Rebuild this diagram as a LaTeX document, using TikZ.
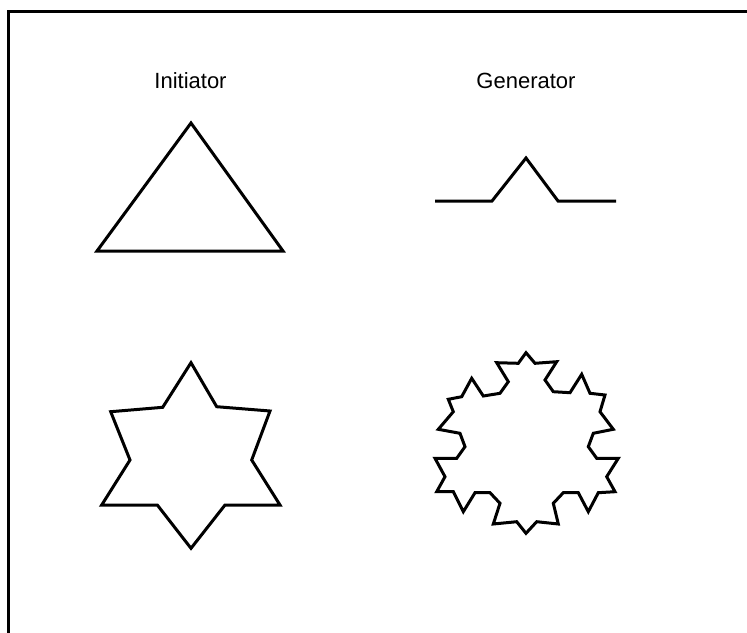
\documentclass[tikz,border=0pt]{standalone}
\usepackage{fontspec}
\setmainfont{Liberation Sans}
\begin{document}
\begin{tikzpicture}[x=1pt,y=-1pt,
  outline/.style={line width=3pt,line join=miter,black},
  frameline/.style={line width=3pt,black},
  captiontext/.style={anchor=base,inner sep=0pt,font=\fontsize{22}{26}\selectfont}]
\useasboundingbox (0,0) rectangle (747,632);
\fill[white] (0,0) rectangle (747,632);
% frame (only top and left edges visible)
\draw[frameline] (8.5,640) -- (8.5,11.5) -- (760,11.5);
% labels
\node[captiontext] (init) at (190.5,88) {Initiator};
\node[captiontext] (gen) at (526,88) {Generator};
% initiator triangle
\draw[outline] (191,123) -- (283,251) -- (97,251) -- cycle;
% generator
\draw[outline] (435,201) -- (492,201) -- (526,158) -- (558,201) -- (616,201);
% first iteration (star)
\draw[outline] (191,362.7) -- (216.7,406.7) -- (270,411) -- (251.7,460) -- (280,505)
  -- (225,505) -- (191,548.3) -- (157.3,505) -- (101.7,505) -- (130,460)
  -- (110.7,411.7) -- (162.7,407.3) -- cycle;
% second iteration (snowflake)
\draw[outline] (526.0,352.7) -- (518.3,363.3) -- (496.7,362.7) -- (508.3,381.7)
  -- (500.0,393.3) -- (483.3,396.0) -- (471.7,378.3) -- (461.7,396.7)
  -- (448.3,399.3) -- (453.3,411.7) -- (438.3,429.3) -- (460.0,433.3)
  -- (465.0,446.7) -- (456.7,458.3) -- (435.0,458.3) -- (445.0,476.7)
  -- (436.7,491.7) -- (453.3,491.7) -- (463.3,511.7) -- (475.0,492.7)
  -- (490.0,492.7) -- (500.0,503.3) -- (493.3,524.0) -- (516.7,521.7)
  -- (526.0,533.3) -- (536.7,521.7) -- (558.3,524.0) -- (553.3,503.3)
  -- (563.3,492.7) -- (578.3,492.7) -- (588.3,511.7) -- (598.3,492.7)
  -- (615.0,491.7) -- (606.7,476.7) -- (618.3,458.3) -- (596.7,458.3)
  -- (588.3,446.7) -- (593.3,433.3) -- (613.3,429.3) -- (600.0,411.7)
  -- (605.0,395.0) -- (590.0,393.3) -- (581.7,374.3) -- (570.0,392.7)
  -- (553.3,391.7) -- (545.0,380.0) -- (556.7,361.7) -- (535.0,363.3) -- cycle;
\end{tikzpicture}
\end{document}
